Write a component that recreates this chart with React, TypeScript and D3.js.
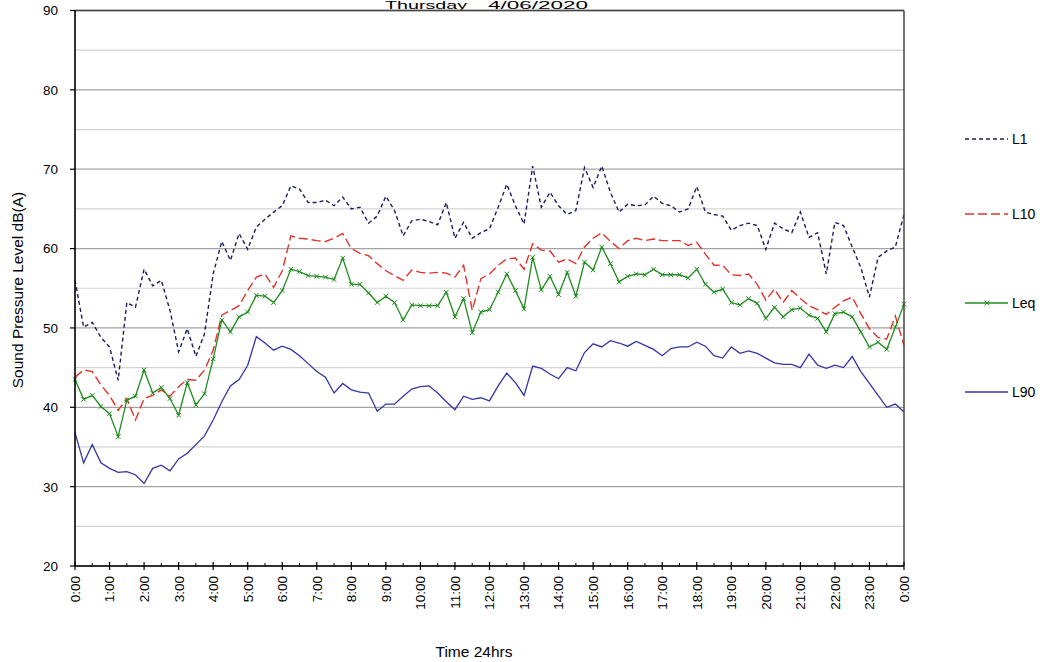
import React from "react";
import * as d3 from "d3";

const hourLabels = ["0:00","1:00","2:00","3:00","4:00","5:00","6:00","7:00","8:00","9:00","10:00","11:00","12:00","13:00","14:00","15:00","16:00","17:00","18:00","19:00","20:00","21:00","22:00","23:00","0:00"];
const yTicks = [20, 30, 40, 50, 60, 70, 80, 90];
const yMinorGrid = [25, 35, 45, 55, 65, 75, 85];

// 15-minute samples, 0:00 .. 24:00 (97 points)
const L1 = [56,50.1,50.7,48.8,47.6,43.4,53.2,52.6,57.4,55.3,56,52.2,47,49.9,46.4,49.3,56.8,60.9,58.5,61.9,59.9,62.7,63.7,64.6,65.4,67.9,67.5,65.8,65.8,66.1,65.4,66.5,65,
  65.2,63.2,64.1,66.6,64.8,61.6,63.5,63.7,63.4,63,65.8,61.3,63.3,61.3,62,62.5,65.2,68.1,65.4,63.1,70.4,65.2,67.1,65.4,64.3,64.8,70.2,67.7,70.4,67.1,64.6,65.6,
  65.4,65.5,66.6,65.7,65.4,64.6,65,67.8,64.6,64.3,64.1,62.3,62.9,63.2,62.9,59.9,63.2,62.5,62,64.6,61.4,62,56.8,63.3,62.9,60.2,57.6,53.9,58.9,59.7,60.2,64.3];
const L10 = [43.8,44.7,44.5,42.8,41.5,39.6,41.1,38.4,41.1,41.5,42.2,41.4,42.6,43.5,43.4,44.7,47.2,51.6,52.2,52.8,54.7,56.4,56.8,55.1,57.2,61.6,61.3,61.2,61,60.9,61.3,61.9,60,
  59.4,59.1,58.1,57.2,56.6,56,57.3,57,56.9,57,56.9,56.4,57.9,52.2,56.2,56.8,57.9,58.7,58.8,57.4,60.6,59.8,59.7,58.3,58.7,58.1,60.2,61.3,62,60.9,60,61,
  61.3,61,61.2,61,61,61,60.4,60.8,59.3,57.9,57.9,56.7,56.6,56.8,55.5,53.5,54.9,53.2,54.7,53.7,52.8,52.3,51.7,52.6,53.4,53.9,51.8,49.9,48.8,48.6,51.5,47.8];
const Leq = [43.5,41,41.5,40.1,39.2,36.3,40.9,41.4,44.7,41.8,42.5,41.1,39,43.1,40.3,41.7,46.1,51,49.5,51.4,52,54.1,54,53.2,54.7,57.4,57.1,56.6,56.5,56.4,56.1,58.8,55.5,
  55.5,54.4,53.2,54,53.2,51,52.9,52.8,52.8,52.8,54.5,51.4,53.7,49.4,52,52.3,54.5,56.8,54.7,52.4,58.9,54.8,56.5,54.2,57,54,58.3,57.3,60.2,58.1,55.8,56.5,
  56.8,56.7,57.4,56.7,56.7,56.7,56.3,57.4,55.5,54.5,54.9,53.2,52.9,53.7,53.1,51.2,52.6,51.4,52.3,52.5,51.6,51.2,49.5,51.8,52,51.4,49.5,47.6,48.2,47.3,50.1,53];
const L90 = [36.8,33,35.3,33,32.3,31.8,31.9,31.5,30.4,32.3,32.7,32,33.5,34.2,35.3,36.4,38.4,40.7,42.7,43.5,45.3,48.9,48.1,47.2,47.7,47.3,46.5,45.5,44.5,43.8,41.8,43,42.2,
  41.9,41.8,39.5,40.4,40.4,41.4,42.3,42.6,42.7,41.8,40.7,39.7,41.4,41,41.2,40.8,42.7,44.3,43.1,41.5,45.2,44.9,44.2,43.6,45,44.6,46.9,48,47.6,48.4,48.1,47.7,
  48.3,47.8,47.3,46.5,47.4,47.6,47.6,48.2,47.7,46.5,46.2,47.6,46.8,47.1,46.8,46.2,45.6,45.4,45.4,45,46.7,45.3,44.9,45.3,45,46.4,44.5,43,41.5,40,40.4,39.4];

const seriesNames = ["L1", "L10", "Leq", "L90"];
const seriesData = [L1, L10, Leq, L90];
const seriesStyle = [
  { color: "#1c1c60", dash: "4,3", width: 1.4 },
  { color: "#e0332b", dash: "9,4", width: 1.4 },
  { color: "#1e8c1e", dash: "", width: 1.3 },
  { color: "#3535a5", dash: "", width: 1.3 },
];
const legendY = [139, 214, 303, 392];

const FONT = "'Liberation Sans', Arial, sans-serif";

export default function App() {
  const W = 1044, H = 662;
  const left = 75, right = 904, top = 10.5, bottom = 566;
  const x = d3.scaleLinear().domain([0, 96]).range([left, right]);
  const y = d3.scaleLinear().domain([20, 90]).range([bottom, top]);
  const line = d3.line<number>().x((_, i) => x(i)).y((d) => y(d));

  const halfHours = d3.range(1, 48, 2).map((h) => h * 2);

  return (
    <svg width={W} height={H} style={{ position: "absolute", left: 0, top: 0, background: "#fff" }} fontFamily={FONT}>
      <text x={385} y={9} fontSize={10} textLength={82} lengthAdjust="spacingAndGlyphs" fill="#000">Thursday</text>
      <text x={488} y={9} fontSize={10} textLength={100} lengthAdjust="spacingAndGlyphs" fill="#000">4/06/2020</text>

      {yMinorGrid.map((v) => (
        <line key={"mg" + v} x1={left} x2={right} y1={y(v)} y2={y(v)} stroke="#d4d4d4" strokeWidth={1.2} />
      ))}
      {yTicks.map((v) => (
        <line key={"g" + v} x1={left} x2={right} y1={y(v)} y2={y(v)} stroke="#a3a3a3" strokeWidth={1.3} />
      ))}

      {seriesData.map((data, k) => (
        <path key={seriesNames[k]} d={line(data) || ""} fill="none" stroke={seriesStyle[k].color}
          strokeWidth={seriesStyle[k].width} strokeDasharray={seriesStyle[k].dash || undefined} />
      ))}
      {Leq.map((v, i) => (
        <path key={"m" + i} d={`M${x(i) - 2.3},${y(v) - 2.3}L${x(i) + 2.3},${y(v) + 2.3}M${x(i) - 2.3},${y(v) + 2.3}L${x(i) + 2.3},${y(v) - 2.3}`}
          stroke={seriesStyle[2].color} strokeWidth={1} />
      ))}

      {/* border */}
      <line x1={left} x2={right} y1={top} y2={top} stroke="#444" strokeWidth={1.5} />
      <line x1={right} x2={right} y1={top} y2={bottom} stroke="#444" strokeWidth={1.5} />
      <line x1={left} x2={left} y1={top} y2={bottom} stroke="#000" strokeWidth={1.6} />
      <line x1={left} x2={right} y1={bottom} y2={bottom} stroke="#000" strokeWidth={1.6} />

      {yTicks.map((v) => (
        <g key={"yt" + v}>
          <line x1={left - 5} x2={left} y1={y(v)} y2={y(v)} stroke="#000" strokeWidth={1.2} />
          <text x={58} y={y(v)} dy="0.36em" textAnchor="end" fontSize={13.5} fill="#000">{v}</text>
        </g>
      ))}

      {hourLabels.map((lab, h) => (
        <g key={"xt" + h}>
          <line x1={x(h * 4)} x2={x(h * 4)} y1={bottom - 4} y2={bottom + 4} stroke="#000" strokeWidth={1.2} />
          <text transform={`translate(${x(h * 4)},${bottom + 10}) rotate(-90)`} dy="0.36em" textAnchor="end" fontSize={13.5} fill="#000">{lab}</text>
        </g>
      ))}
      {halfHours.map((i) => (
        <line key={"hh" + i} x1={x(i)} x2={x(i)} y1={bottom - 3} y2={bottom} stroke="#000" strokeWidth={1} />
      ))}

      <text x={474} y={657} textAnchor="middle" fontSize={15.5} fill="#000">Time 24hrs</text>
      <text transform={`translate(23,290) rotate(-90)`} textAnchor="middle" fontSize={15.5} fill="#000">Sound Pressure Level dB(A)</text>

      {seriesNames.map((n, k) => (
        <g key={"lg" + n}>
          <line x1={965} x2={1008} y1={legendY[k]} y2={legendY[k]} stroke={seriesStyle[k].color}
            strokeWidth={seriesStyle[k].width} strokeDasharray={seriesStyle[k].dash || undefined} />
          {k === 2 && (
            <path d={`M${984.5},${legendY[k] - 2.3}L${989.5},${legendY[k] + 2.3}M${984.5},${legendY[k] + 2.3}L${989.5},${legendY[k] - 2.3}`}
              stroke={seriesStyle[k].color} strokeWidth={1} />
          )}
          <text x={1012} y={legendY[k]} dy="0.36em" fontSize={14} fill="#000">{n}</text>
        </g>
      ))}
    </svg>
  );
}
